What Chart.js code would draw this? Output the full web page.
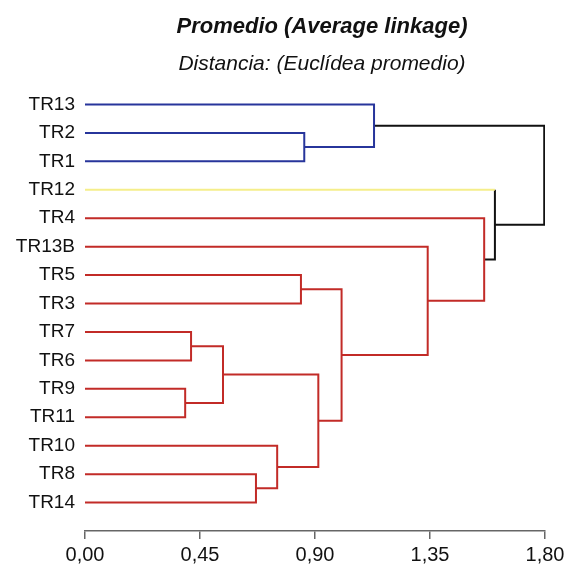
<!DOCTYPE html>
<html>
<head>
<meta charset="utf-8">
<script src="https://cdn.jsdelivr.net/npm/chart.js@4.4.1/dist/chart.umd.min.js"></script>
<style>
  html, body { margin: 0; padding: 0; background: #fff; }
  #wrap { width: 576px; height: 564px; }
</style>
</head>
<body>
<div id="wrap"><canvas id="dendro"></canvas></div>
<script>
// leaves, top to bottom
const leaves     = ['TR13','TR2','TR1','TR12','TR4','TR13B','TR5','TR3','TR7','TR6','TR9','TR11','TR10','TR8','TR14'];
const leafGroups = ['blue','blue','blue','yellow','red','red','red','red','red','red','red','red','red','red','red'];

// merges in order; 'Cn' = cluster made by merge n
const mergeLeft    = ['TR2','TR13','TR7','TR9','C2','TR8','TR10','C4','TR5','C8','TR13B','TR4','TR12','C1'];
const mergeRight   = ['TR1','C0','TR6','TR11','C3','TR14','C5','C6','TR3','C7','C9','C10','C11','C12'];
const mergeHeights = [0.858,1.131,0.415,0.392,0.540,0.669,0.752,0.913,0.845,1.004,1.341,1.562,1.604,1.797];
const mergeGroups  = ['blue','blue','red','red','red','red','red','red','red','red','red','red','black','black'];

const xTicks = [0, 0.45, 0.90, 1.35, 1.80];

const COLORS = { blue: '#27359b', red: '#c22b27', yellow: '#f5ee8a', black: '#111111' };

const TITLE    = 'Promedio (Average linkage)';
const SUBTITLE = 'Distancia: (Euclídea promedio)';

Chart.defaults.font.family = "Arial, 'Liberation Sans', sans-serif";
Chart.defaults.color = '#111';

// node lookup: leaf position/height, or cluster built earlier
const clusters = [];
function node(id) {
  const i = leaves.indexOf(id);
  if (i >= 0) return { pos: i, h: 0, leaf: true, color: COLORS[leafGroups[i]] };
  return clusters[parseInt(id.slice(1), 10)];
}

const datasets = [];
function seg(points, color) {
  datasets.push({
    data: points,
    showLine: true,
    borderColor: color,
    borderWidth: 2,
    pointRadius: 0,
    fill: false,
    tension: 0,
    borderCapStyle: 'butt',
    borderJoinStyle: 'miter',
  });
}

// leaf arms keep the leaf's colour, everything else takes the link colour
mergeHeights.forEach((H, k) => {
  const a = node(mergeLeft[k]);
  const b = node(mergeRight[k]);
  const col = COLORS[mergeGroups[k]];
  const pts = [];
  const ownA = !a.leaf || a.color === col;
  const ownB = !b.leaf || b.color === col;
  if (ownA) pts.push({ x: a.h, y: a.pos });
  else seg([{ x: a.h, y: a.pos }, { x: H, y: a.pos }], a.color);
  pts.push({ x: H, y: a.pos }, { x: H, y: b.pos });
  if (ownB) pts.push({ x: b.h, y: b.pos });
  else seg([{ x: b.h, y: b.pos }, { x: H, y: b.pos }], b.color);
  seg(pts, col);
  clusters.push({ pos: (a.pos + b.pos) / 2, h: H, leaf: false, color: col });
});

// title + subtitle drawn over the plot, centred like the original
const headings = {
  id: 'headings',
  afterDraw(chart) {
    const ctx = chart.ctx;
    ctx.save();
    ctx.fillStyle = '#111';
    ctx.textAlign = 'center';
    ctx.textBaseline = 'alphabetic';
    ctx.font = "italic bold 22px Arial, 'Liberation Sans', sans-serif";
    ctx.fillText(TITLE, 322, 33);
    ctx.font = "italic 21px Arial, 'Liberation Sans', sans-serif";
    ctx.fillText(SUBTITLE, 322, 70);
    ctx.restore();
  }
};

new Chart(document.getElementById('dendro'), {
  type: 'scatter',
  data: { datasets },
  plugins: [headings],
  options: {
    responsive: true,
    maintainAspectRatio: false,
    animation: false,
    layout: { padding: { top: 76, right: 31, left: 0, bottom: 0 } },
    plugins: {
      legend: { display: false },
      tooltip: { enabled: false },
      title: { display: false },
    },
    scales: {
      x: {
        type: 'linear',
        min: 0,
        max: 1.8,
        afterBuildTicks: s => { s.ticks = xTicks.map(v => ({ value: v })); },
        afterFit: s => { s.height = 33; },
        border: { display: true, color: '#666', width: 1.5 },
        grid: { display: true, drawOnChartArea: false, drawTicks: true, tickLength: 8, color: '#666', lineWidth: 1.5 },
        ticks: {
          padding: 4,
          maxRotation: 0,
          font: { size: 20 },
          color: '#111',
          callback: v => v.toFixed(2).replace('.', ','),
        },
      },
      y: {
        type: 'linear',
        reverse: true,
        min: -1,
        max: 15,
        afterBuildTicks: s => { s.ticks = leaves.map((_, i) => ({ value: i })); },
        afterFit: s => { s.width = 85; },
        border: { display: false },
        grid: { display: false, drawTicks: false },
        ticks: {
          padding: 10,
          font: { size: 19 },
          color: '#111',
          callback: v => leaves[v],
        },
      },
    },
  },
});
</script>
</body>
</html>
